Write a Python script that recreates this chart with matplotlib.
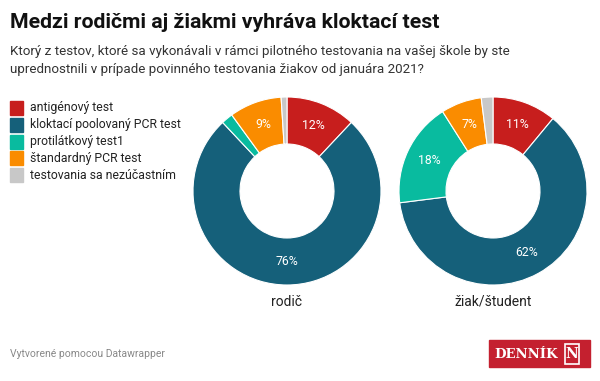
import matplotlib.pyplot as plt
from matplotlib.patches import Rectangle

plt.rcParams['font.family'] = ['Roboto', 'DejaVu Sans']

categories = ["antigénový test", "kloktací poolovaný PCR test", "protilátkový test1",
              "štandardný PCR test", "testovania sa nezúčastním"]
colors = ["#c71e1d", "#15607a", "#09bb9f", "#fa8c00", "#c8c8c8"]
groups = ["rodič", "žiak/študent"]
rodic = [12, 76, 2, 9, 1]
ziak = [11, 62, 18, 7, 2]
series = [rodic, ziak]

W, H = 600, 381
fig = plt.figure(figsize=(W / 100, H / 100), dpi=100)


def px_axes(cx, cy, r):
    return fig.add_axes([(cx - r) / W, (H - cy - r) / H, 2 * r / W, 2 * r / H])


fig.text(10 / W, 1 - 22 / H, "Medzi rodičmi aj žiakmi vyhráva kloktací test",
         fontsize=15.3, fontweight="bold", va="center", color="#111111")
fig.text(10 / W, 1 - 52 / H, "Ktorý z testov, ktoré sa vykonávali v rámci pilotného testovania na vašej škole by ste",
         fontsize=9.6, va="center", color="#333333")
fig.text(10 / W, 1 - 70 / H, "uprednostnili v prípade povinného testovania žiakov od januára 2021?",
         fontsize=9.6, va="center", color="#333333")

# legend
for i, (cat, col) in enumerate(zip(categories, colors)):
    y = 108 + i * 16.8
    fig.patches.append(Rectangle((10 / W, 1 - (y + 7) / H), 13 / W, 14 / H,
                                 transform=fig.transFigure, color=col))
    fig.text(30 / W, 1 - y / H, cat, fontsize=8.8, va="center", color="#222222")

centers = [287, 493]
for vals, cx, name in zip(series, centers, groups):
    ax = px_axes(cx, 191, 94)
    ax.pie(vals, colors=colors, startangle=90, counterclock=False, radius=1,
           wedgeprops=dict(width=0.5, edgecolor="white", linewidth=0.8),
           labels=[f"{v}%" if v >= 5 else "" for v in vals],
           labeldistance=0.75, textprops=dict(color="white", fontsize=8.8, ha="center", va="center"))
    ax.set_xlim(-1, 1)
    ax.set_ylim(-1, 1)
    ax.set_aspect("equal")
    ax.axis("off")
    fig.text(cx / W, 1 - 302 / H, name, fontsize=10, ha="center", va="center", color="#222222")

fig.text(10 / W, 1 - 354 / H, "Vytvorené pomocou Datawrapper", fontsize=7.5,
         va="center", color="#888888")

# logo
fig.patches.append(Rectangle((489 / W, 1 - 367 / H), 101 / W, 27 / H,
                             transform=fig.transFigure, color="#c4202f"))
fig.text(526 / W, 1 - 354 / H, "DENNÍK", fontsize=9.5, family="DejaVu Serif",
         fontweight="bold", color="white", ha="center", va="center")
fig.patches.append(Rectangle((565 / W, 1 - 364 / H), 14 / W, 20 / H, transform=fig.transFigure,
                             fill=False, edgecolor="white", linewidth=1.2))
fig.text(572 / W, 1 - 354 / H, "N", fontsize=10, family="DejaVu Serif",
         fontweight="bold", color="white", ha="center", va="center")

fig.savefig("out.png", dpi=100, facecolor="white")
